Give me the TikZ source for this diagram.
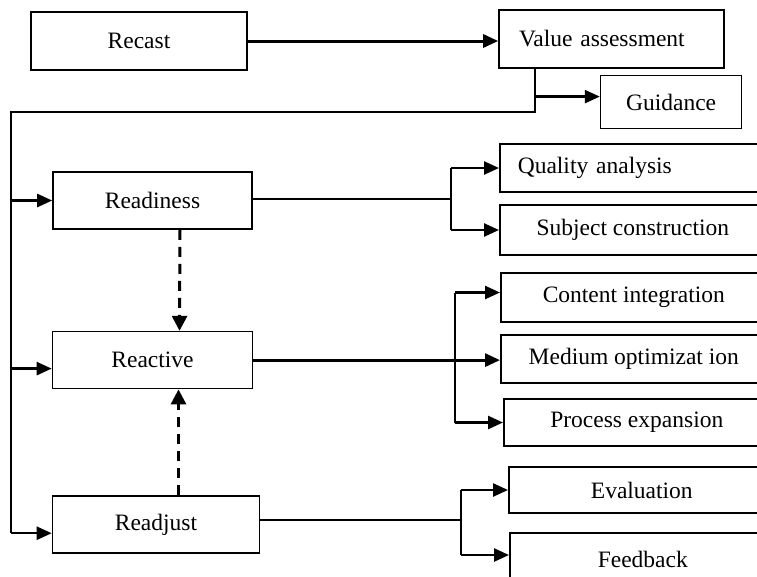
\documentclass[tikz,border=0pt]{standalone}
\usepackage{fontspec}
\setmainfont{Liberation Serif}
\usepackage{tikz}
\usetikzlibrary{arrows.meta, positioning, calc}
\tikzstyle{stage} = [rectangle, draw=black, line width=1.6pt, minimum width=200pt, minimum height=57pt, text centered, font=\fontsize{23.5}{27}\selectfont]
\tikzstyle{task} = [rectangle, draw=black, line width=1.6pt, anchor=west, minimum width=266pt, minimum height=48pt, text centered, font=\fontsize{23.5}{27}\selectfont]
\tikzstyle{arrow} = [line width=2.5pt, -{Triangle[length=15pt,width=13pt]}]
\tikzstyle{link} = [line width=1.3pt]
\tikzstyle{bus} = [line width=2pt]
\tikzstyle{dasharrow} = [line width=3pt, dash pattern=on 10pt off 7pt, -{Triangle[length=15pt,width=15pt]}]

\begin{document}
\begin{tikzpicture}[x=1pt, y=-1pt]
    \useasboundingbox (0,0) rectangle (757,576);
    \clip (0,0) rectangle (757,576);

    % Top row
    \node[stage, minimum width=216pt, minimum height=58pt] (recast) at (139,41) {Recast};
    \node[stage, minimum width=225pt, minimum height=58pt, text width=185pt, align=left] (value) at (611.5,39) {Value assessment};
    \node[stage, minimum width=141pt, minimum height=53pt, below right=6pt and -125pt of value] (guidance) {Guidance};

    % Stages
    \node[stage, minimum width=199pt] (readiness) at (152.5,200.5) {Readiness};
    \node[stage, below=101pt of readiness] (reactive) {Reactive};
    \node[stage, minimum width=207pt, below=106pt of reactive.south west, anchor=north west] (readjust) {Readjust};

    % Tasks
    \node[task, text width=230pt, align=left] (quality) at (499,168) {Quality analysis};
    \node[task, minimum height=50pt] (subject) at (499,230) {Subject construction};
    \node[task, minimum height=49pt] (content) at (500,297.5) {Content integration};
    \node[task] (medium) at (500,359) {Medium optimizat ion};
    \node[task, minimum height=47pt] (process) at (503,422.5) {Process expansion};
    \node[task, minimum height=46pt] (evaluation) at (508,490) {Evaluation};
    \node[task, minimum height=52pt] (feedback) at (509,559) {Feedback};

    % Helper points
    \coordinate (vt) at (535,112);
    \coordinate (lt) at (11,112);
    \coordinate (gd) at ($(guidance.west)+(0,-5.5)$);
    \coordinate (in1) at (readiness.west);
    \coordinate (in2) at ($(reactive.west)+(0,8.5)$);
    \coordinate (in3) at ($(readjust.west)+(0,8.5)$);
    \coordinate (b1) at (451,199);
    \coordinate (b2) at (455,357);
    \coordinate (b3) at (461,520);
    \coordinate (cn) at ($(content.west)+(0,-5)$);
    \coordinate (fb) at ($(feedback.west)+(0,-4)$);

    % Connections
    \draw[arrow, line width=3pt] (recast.east) -- (recast.east -| value.west);
    \draw[bus] (value.south -| vt) -- (vt) -- (lt) -- (lt |- in3);
    \draw[arrow] (vt |- gd) -- (gd);
    \draw[arrow] (lt |- in1) -- (in1);
    \draw[arrow] (lt |- in2) -- (in2);
    \draw[arrow] (lt |- in3) -- (in3);

    \draw[link] (readiness.east |- b1) -- (b1);
    \draw[bus] (b1 |- quality.west) -- (b1 |- subject.west);
    \draw[arrow] (b1 |- quality.west) -- (quality.west);
    \draw[arrow] (b1 |- subject.west) -- (subject.west);

    \draw[arrow, line width=3pt] (reactive.east) -- (reactive.east -| medium.west);
    \draw[bus] (b2 |- cn) -- (b2 |- process.west);
    \draw[arrow] (b2 |- cn) -- (cn);
    \draw[arrow] (b2 |- process.west) -- (process.west);

    \draw[link] (readjust.east |- b3) -- (b3);
    \draw[bus] (b3 |- evaluation.west) -- (b3 |- fb);
    \draw[arrow] (b3 |- evaluation.west) -- (evaluation.west);
    \draw[arrow] (b3 |- fb) -- (fb);

    \draw[dasharrow] ($(readiness.south)+(27.5,0)$) -- ($(reactive.north)+(27,0)$);
    \draw[dasharrow] ($(readjust.north)+(22.5,0)$) -- ($(reactive.south)+(26,0)$);
\end{tikzpicture}
\end{document}
